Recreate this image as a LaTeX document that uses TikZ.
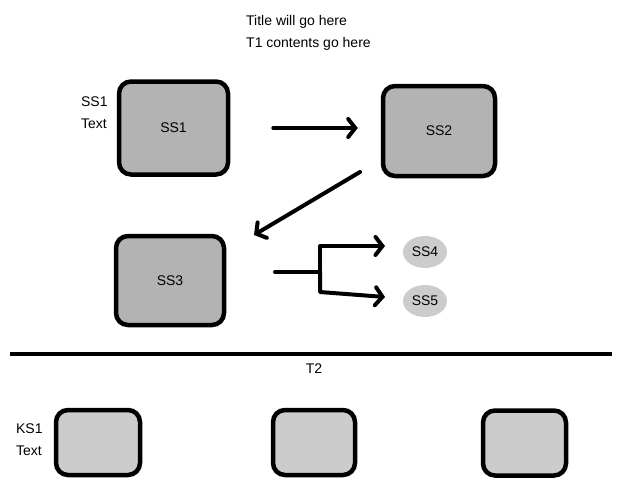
\documentclass[tikz,border=0pt]{standalone}
\usepackage{fontspec}
\setmainfont{Liberation Sans}
\usepackage{tikz}
\usetikzlibrary{positioning,arrows.meta,shapes.geometric}

\definecolor{ssgray}{HTML}{B3B3B3}
\definecolor{ksgray}{HTML}{CCCCCC}

\tikzset{
  ssbox/.style={draw, line width=4.5pt, rounded corners=12pt, fill=ssgray,
    minimum width=109pt, minimum height=93pt, inner sep=0pt},
  ksbox/.style={draw, line width=4.5pt, rounded corners=12pt, fill=ksgray,
    minimum width=84pt, minimum height=65pt, inner sep=0pt},
  ssleaf/.style={ellipse, fill=ksgray, minimum width=44pt, minimum height=32pt, inner sep=0pt},
  lbl/.style={align=left, inner sep=0pt, font=\fontsize{14}{22}\selectfont},
  conn/.style={line width=4pt, line cap=round, line join=round},
  flow/.style={conn, -{Straight Barb[length=7pt,width=18pt,line cap=round]}},
}

\begin{document}
\begin{tikzpicture}[x=1pt, y=-1pt, font=\fontsize{14}{16}\selectfont]
    \useasboundingbox (0,0) rectangle (640,480);

    %% header
     \node (title) [lbl, anchor=north west] at (246,15) {Title will go here\\T1 contents go here};

    %% upper part
     \node (ss1) [ssbox] at (173.5,128) {SS1};
     \node (ss2) [ssbox, minimum width=112pt, minimum height=90pt] at (439,131) {SS2};
     \node (ss3) [ssbox, minimum width=108pt, minimum height=89pt] at (170,280.5) {SS3};
     \node (ss4) [ssleaf] at (425,252) {SS4};
     \node (ss5) [ssleaf] at (425,301) {SS5};
     \node (ss1txt) [lbl, left=9pt of ss1.north west, anchor=north east, yshift=-17pt] {SS1\\Text};

     \coordinate (c23a) at (360,172);
     \coordinate (c23b) at (254,235);
     \coordinate (s3out) at (275,272);
     \coordinate (fork) at (320,272);
     \coordinate (in4) at (385,246);
     \coordinate (in5) at (385,297);

     \draw[flow, shorten <=43pt, shorten >=23pt] (ss1.east) -- (ss2.west |- ss1.east);
     \draw[flow] (c23a) -- (c23b);
     \draw[conn] (s3out) -- (fork);
     \draw[flow] (fork) |- (in4);
     \draw[flow] (fork) -- ++(0,20) -- (in5);

    %% divider
     \coordinate (hl) at (10,354);
     \coordinate (hr) at (612,354);
     \draw[conn, line cap=butt] (hl) -- (hr);
     \node (t2) at (314,369) {T2};

    %% lower part
     \node (ks1) [ksbox] at (98,442.5) {};
     \node (ks2) [ksbox, minimum width=82pt] at (314,442.5) {};
     \node (ks3) [ksbox, minimum width=83pt] at (524.5,443) {};
     \node (ks1txt) [lbl, left=11pt of ks1.north west, anchor=north east, yshift=-16pt] {KS1\\Text};

    \end{tikzpicture}
\end{document}
